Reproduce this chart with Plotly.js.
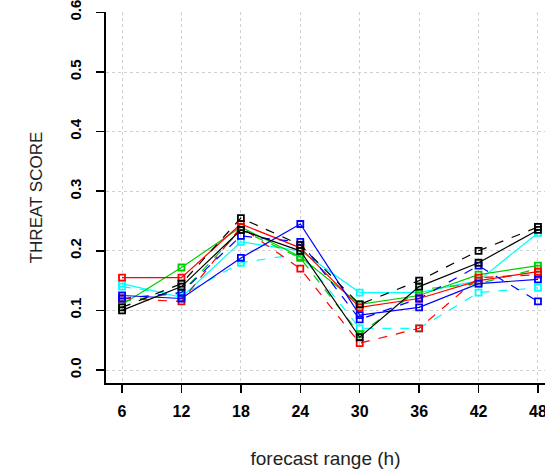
<!DOCTYPE html>
<html>
<head>
<meta charset="utf-8">
<script src="https://cdn.plot.ly/plotly-3.0.1.min.js"></script>
<style>html,body{margin:0;padding:0;background:#fff;}#chart{width:545px;height:470px;}</style>
</head>
<body>
<div id="chart"></div>
<script>
const hours = [6, 12, 18, 24, 30, 36, 42, 48];
const tickLabels = ["6", "12", "18", "24", "30", "36", "42", "48"];
const yTickVals = [0, 0.1, 0.2, 0.3, 0.4, 0.5, 0.6];
const yTickText = ["0.0", "0.1", "0.2", "0.3", "0.4", "0.5", "0.6"];

const blackSolid  = [0.100, 0.140, 0.235, 0.200, 0.055, 0.140, 0.180, 0.235];
const blackDashed = [0.105, 0.145, 0.255, 0.210, 0.110, 0.150, 0.200, 0.240];
const redSolid    = [0.155, 0.155, 0.245, 0.205, 0.105, 0.120, 0.150, 0.165];
const redDashed   = [0.120, 0.115, 0.240, 0.170, 0.045, 0.070, 0.155, 0.160];
const greenSolid  = [0.110, 0.172, 0.240, 0.190, 0.110, 0.125, 0.160, 0.175];
const greenDashed = [0.115, 0.130, 0.235, 0.188, 0.060, 0.135, 0.145, 0.170];
const blueSolid   = [0.125, 0.120, 0.188, 0.245, 0.092, 0.105, 0.145, 0.152];
const blueDashed  = [0.120, 0.130, 0.225, 0.215, 0.085, 0.120, 0.175, 0.115];
const cyanSolid   = [0.145, 0.122, 0.215, 0.200, 0.130, 0.130, 0.150, 0.230];
const cyanDashed  = [0.140, 0.125, 0.180, 0.195, 0.070, 0.070, 0.130, 0.138];

function tr(y, color, dash) {
  return {
    x: hours, y: y, type: 'scatter', mode: 'lines+markers',
    line: {color: color, width: 1.2, dash: dash},
    marker: {symbol: 'square-open', size: 6, color: color, line: {width: 1.8, color: color}},
    showlegend: false, hoverinfo: 'skip', cliponaxis: false
  };
}

const data = [
  tr(cyanDashed, '#00ffff', 'dash'),
  tr(cyanSolid, '#00ffff', 'solid'),
  tr(greenDashed, '#00cd00', 'dash'),
  tr(greenSolid, '#00cd00', 'solid'),
  tr(redDashed, '#ff0000', 'dash'),
  tr(redSolid, '#ff0000', 'solid'),
  tr(blueDashed, '#0000ff', 'dash'),
  tr(blueSolid, '#0000ff', 'solid'),
  tr(blackDashed, '#000000', 'dash'),
  tr(blackSolid, '#000000', 'solid')
];

const layout = {
  width: 545, height: 470,
  margin: {l: 106, r: 0, t: 12, b: 87},
  paper_bgcolor: '#ffffff', plot_bgcolor: '#ffffff',
  font: {family: 'Liberation Sans, Arial, sans-serif', color: '#000'},
  xaxis: {
    range: [4.38, 48.71],
    tickvals: hours, ticktext: tickLabels,
    showgrid: true, gridcolor: '#d0d0d0', griddash: 'dot', gridwidth: 1,
    zeroline: false,
    showline: true, linecolor: '#000', linewidth: 2,
    ticks: 'outside', ticklen: 8, tickwidth: 1.5, tickcolor: '#000',
    tickfont: {size: 16, weight: 'bold', color: '#000'},
    ticklabelstandoff: 5,
    ticklabeloverflow: 'allow',
    title: {text: 'forecast range (h)', font: {size: 19, color: '#222'}, standoff: 32}
  },
  yaxis: {
    range: [-0.0218, 0.6007],
    tickvals: yTickVals, ticktext: yTickText,
    tickangle: -90,
    showgrid: true, gridcolor: '#d0d0d0', griddash: 'dot', gridwidth: 1,
    zeroline: false,
    showline: true, linecolor: '#000', linewidth: 2,
    ticks: 'outside', ticklen: 8, tickwidth: 1.5, tickcolor: '#000',
    tickfont: {size: 15, weight: 'bold', color: '#000'},
    ticklabelstandoff: 9,
    ticklabeloverflow: 'allow',
    title: {text: 'THREAT SCORE', font: {size: 17, color: '#222'}, standoff: 20}
  }
};

Plotly.newPlot('chart', data, layout, {staticPlot: true, displayModeBar: false});
</script>
</body>
</html>
